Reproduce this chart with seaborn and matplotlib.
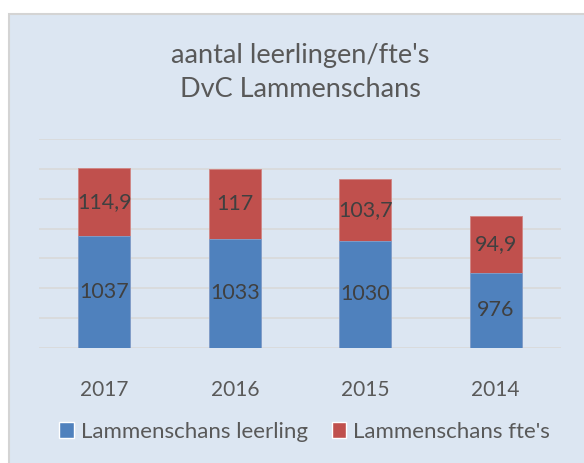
import pandas as pd
import seaborn as sns
import matplotlib.pyplot as plt
from matplotlib.patches import Rectangle

# data
years = ["2017", "2016", "2015", "2014"]
leerlingen = [1037, 1033, 1030, 976]
ftes = [114.9, 117, 103.7, 94.9]

BLUE = "#4f81bd"
RED = "#c0504d"
PANEL = "#dce6f2"
TXT = "#595959"

df = pd.DataFrame({"jaar": years, "leerling": leerlingen, "fte": ftes})
df["totaal"] = df["leerling"] + df["fte"]

sns.set_theme(style="white")
plt.rcParams["font.family"] = ["Lato", "DejaVu Sans"]

W, H = 584, 463
fig = plt.figure(figsize=(W / 100, H / 100), dpi=100, facecolor="white")

# chart panel (light blue area with grey border)
fig.add_artist(Rectangle((9 / W, -0.01), 1.0, 1 - 13.5 / H + 0.01, transform=fig.transFigure,
                         facecolor=PANEL, edgecolor="#d4d4d4", linewidth=1.5, zorder=0))

ax = fig.add_axes([39 / W, (H - 347.7) / H, 522 / W, 208.4 / H])
ax.set_facecolor("none")

# stacked bars: total in red first, then the blue part over it
sns.barplot(data=df, x="jaar", y="totaal", color=RED, saturation=1, width=0.4,
            edgecolor="#d08583", linewidth=0.6, ax=ax, zorder=3)
sns.barplot(data=df, x="jaar", y="leerling", color=BLUE, saturation=1, width=0.4,
            edgecolor="#7fa3d0", linewidth=0.6, ax=ax, zorder=4)

ax.set_ylim(850, 1200)
ax.set_xlim(-0.5, len(years) - 0.5)
ax.set_yticks(range(850, 1201, 50))
ax.yaxis.grid(True, color="#d9d9d9", linewidth=1.2, zorder=0)
ax.set_axisbelow(True)
ax.tick_params(axis="y", left=False, labelleft=False)
ax.tick_params(axis="x", bottom=False, pad=17, labelsize=15, labelcolor=TXT)
for s in ax.spines.values():
    s.set_visible(False)
ax.set_xlabel("")
ax.set_ylabel("")

# data labels
for i, row in df.iterrows():
    ax.text(i, 850 + (row["leerling"] - 850) / 2, f"{row['leerling']:g}",
            ha="center", va="center", fontsize=15.5, color="#404040", zorder=5)
    ax.text(i, row["leerling"] + row["fte"] / 2, f"{row['fte']:g}".replace(".", ","),
            ha="center", va="center", fontsize=15.5, color="#404040", zorder=5)

# title
fig.text(300 / W, 1 - 63.3 / H, "aantal leerlingen/fte's", ha="center", va="baseline",
         fontsize=19.5, color=TXT)
fig.text(300 / W, 1 - 97.3 / H, "DvC Lammenschans", ha="center", va="baseline",
         fontsize=19.5, color=TXT)

# legend
handles = [Rectangle((0, 0), 1, 1, facecolor=BLUE), Rectangle((0, 0), 1, 1, facecolor=RED)]
fig.legend(handles, ["Lammenschans leerling", "Lammenschans fte's"], loc="center",
           bbox_to_anchor=(304.7 / W, 1 - 432 / H), ncol=2, frameon=False,
           fontsize=16, labelcolor=TXT, handlelength=0.65, handleheight=0.7,
           handletextpad=0.3, columnspacing=1.1, borderaxespad=0)

fig.savefig("out.png", dpi=100, facecolor="white")
